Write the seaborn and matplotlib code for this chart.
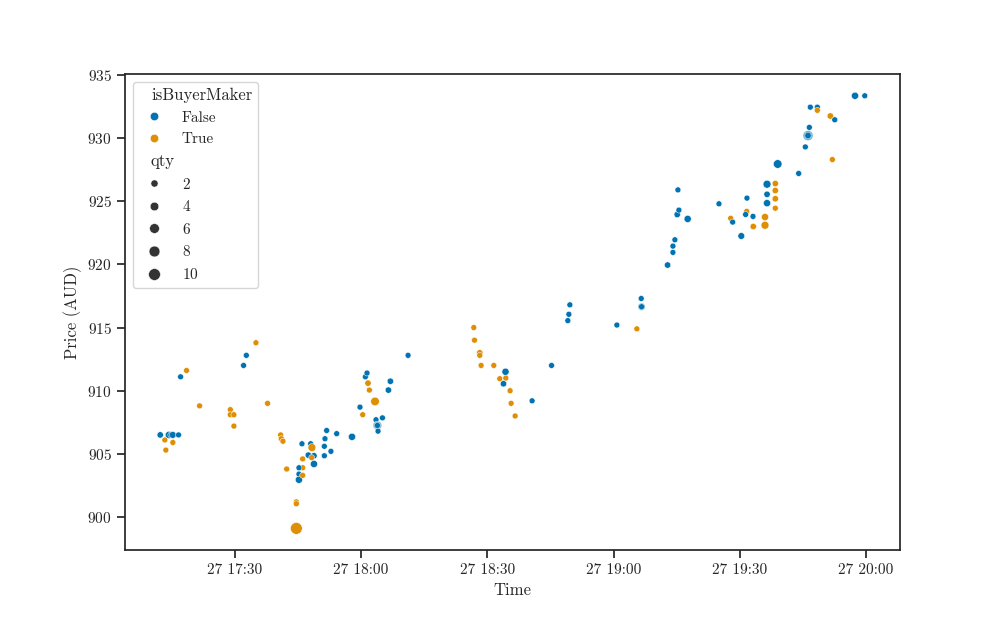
import matplotlib
matplotlib.use("Agg")
import matplotlib.pyplot as plt
from matplotlib.offsetbox import HPacker, DrawingArea, TextArea
import seaborn as sns
import pandas as pd

times = [
    "17:12:20", "17:14:23", "17:14:54", "17:15:20", "17:16:41", "17:13:26", "17:15:20", "17:13:40",
    "17:17:10", "17:18:35", "17:21:41", "17:28:59", "17:28:59", "17:29:50", "17:29:50", "17:32:08",
    "17:32:47", "17:35:04", "17:37:50", "17:40:56", "17:41:06", "17:41:29", "17:42:22", "17:46:00",
    "17:48:04", "17:48:22", "17:47:31", "17:48:51", "17:48:18", "17:46:10", "17:48:51", "17:46:10",
    "17:45:17", "17:45:17", "17:45:17", "17:46:10", "17:44:40", "17:44:40", "17:44:40", "17:51:19",
    "17:51:19", "17:51:28", "17:51:52", "17:52:53", "17:54:15", "17:57:53", "17:59:47", "18:00:26",
    "18:01:04", "18:01:27", "18:01:41", "18:02:01", "18:03:21", "18:03:35", "18:05:07", "18:03:55",
    "18:03:55", "18:03:55", "18:04:04", "18:06:32", "18:07:00", "18:11:12", "18:26:49", "18:26:59",
    "18:28:14", "18:28:14", "18:28:33", "18:31:34", "18:34:21", "18:32:59", "18:34:25", "18:33:52",
    "18:35:26", "18:35:41", "18:36:38", "18:40:40", "18:45:17", "18:49:09", "18:49:24", "18:49:38",
    "19:00:48", "19:05:33", "19:06:35", "19:06:40", "19:06:40", "19:12:51", "19:14:07", "19:14:07",
    "19:14:35", "19:15:08", "19:15:32", "19:15:18", "19:17:37", "19:25:03", "19:27:50", "19:28:18",
    "19:30:21", "19:31:38", "19:31:23", "19:31:42", "19:33:08", "19:33:12", "19:35:59", "19:35:59",
    "19:36:28", "19:36:28", "19:36:28", "19:38:26", "19:38:26", "19:38:26", "19:38:26", "19:39:00",
    "19:43:59", "19:45:34", "19:46:12", "19:46:12", "19:46:12", "19:46:31", "19:46:45", "19:48:25",
    "19:48:25", "19:51:30", "19:52:33", "19:51:59", "19:57:22", "19:59:41",
]
prices = [
    906.5, 906.5, 906.5, 906.5, 906.5, 906.1, 905.9, 905.3,
    911.1, 911.6, 908.8, 908.5, 908.1, 908.1, 907.2, 912.0,
    912.8, 913.8, 909.0, 906.5, 906.2, 906.0, 903.8, 905.8,
    905.8, 905.5, 904.9, 904.85, 904.7, 904.6, 904.2, 903.9,
    903.9, 903.4, 902.95, 903.3, 901.2, 901.05, 899.1, 905.6,
    904.85, 906.2, 906.85, 905.2, 906.6, 906.35, 908.7, 908.1,
    911.1, 911.4, 910.6, 910.05, 909.15, 907.7, 907.85, 907.25,
    907.25, 907.25, 906.8, 910.05, 910.75, 912.8, 915.0, 914.0,
    913.0, 912.8, 912.0, 912.0, 911.5, 910.95, 911.0, 910.55,
    910.0, 909.0, 908.0, 909.2, 912.0, 915.55, 916.05, 916.8,
    915.2, 914.9, 917.3, 916.65, 916.65, 919.95, 920.95, 921.45,
    921.95, 923.95, 924.3, 925.9, 923.6, 924.8, 923.65, 923.35,
    922.25, 924.2, 923.95, 925.25, 923.8, 923.0, 923.75, 923.1,
    926.35, 925.55, 924.85, 926.4, 925.85, 925.2, 924.45, 927.95,
    927.2, 929.3, 930.2, 930.2, 930.2, 930.85, 932.45, 932.45,
    932.2, 931.75, 931.45, 928.3, 933.35, 933.35,
]
is_buyer_maker = [
    False, False, False, False, False, True, True, True,
    False, True, True, True, True, True, True, False,
    False, True, True, True, True, True, True, False,
    False, True, False, False, True, True, False, True,
    False, False, False, True, True, True, True, False,
    False, False, False, False, False, False, False, True,
    False, False, True, True, True, False, False, False,
    False, False, False, False, False, False, True, True,
    True, True, True, True, False, True, True, False,
    True, True, True, False, False, False, False, False,
    False, True, False, False, False, False, False, False,
    False, False, False, False, False, False, True, False,
    False, True, False, False, False, True, True, True,
    False, False, False, True, True, True, True, False,
    False, False, False, False, False, False, False, False,
    True, True, False, True, False, False,
]
qty = [
    1.0, 2.0, 1.0, 1.5, 0.5, 0.5, 0.5, 0.5,
    0.5, 0.5, 0.5, 0.5, 0.5, 0.5, 0.5, 0.5,
    0.5, 0.5, 0.5, 0.5, 0.5, 0.5, 0.5, 0.5,
    0.5, 3.0, 1.0, 1.0, 0.5, 0.5, 2.0, 0.5,
    0.5, 0.5, 2.0, 0.5, 0.5, 0.5, 10.0, 0.5,
    0.5, 0.5, 0.5, 0.5, 0.5, 2.0, 0.5, 0.5,
    0.5, 0.5, 1.0, 0.5, 4.0, 0.5, 0.5, 4.0,
    2.0, 0.5, 0.5, 1.0, 1.0, 0.5, 0.5, 0.5,
    1.0, 0.5, 0.5, 0.5, 2.0, 0.5, 0.5, 1.0,
    0.5, 0.5, 0.5, 0.5, 0.5, 0.5, 0.5, 0.5,
    0.5, 0.5, 0.5, 2.0, 0.5, 1.0, 0.5, 0.5,
    0.5, 1.0, 0.5, 0.5, 2.0, 0.5, 0.5, 0.5,
    1.5, 0.5, 0.5, 0.5, 0.5, 1.0, 2.0, 3.0,
    3.0, 1.0, 2.0, 1.0, 1.0, 1.0, 0.5, 4.0,
    0.5, 0.5, 6.0, 3.0, 1.0, 0.5, 0.5, 0.5,
    0.5, 1.0, 0.5, 0.5, 2.0, 0.5,
]

df = pd.DataFrame({
    "Time": pd.to_datetime(["2021-05-27 " + t for t in times]),
    "Price (AUD)": prices,
    "isBuyerMaker": is_buyer_maker,
    "qty": qty,
})

sns.set_theme(style="ticks", context="notebook")
plt.rcParams["font.family"] = ["cmr10", "DejaVu Serif"]
plt.rcParams["axes.formatter.use_mathtext"] = True
plt.rcParams["axes.unicode_minus"] = False
plt.rcParams["legend.loc"] = "upper left"

fig, ax = plt.subplots(figsize=(10, 6.18), dpi=100)
sns.scatterplot(data=df, x="Time", y="Price (AUD)", hue="isBuyerMaker",
                size="qty", palette="colorblind", ax=ax)

# make the legend subtitles look like titles (no handle space)
leg = ax.get_legend()
subtitles = {"isBuyerMaker", "qty"}
for hp in leg.findobj(HPacker):
    ch = hp.get_children()
    if len(ch) == 2 and isinstance(ch[0], DrawingArea) and isinstance(ch[1], TextArea):
        if ch[1].get_text() in subtitles:
            ch[0].set_width(0)
            for t in ch[1].get_children():
                t.set_size(12)

fig.savefig("out.png", dpi=100)
